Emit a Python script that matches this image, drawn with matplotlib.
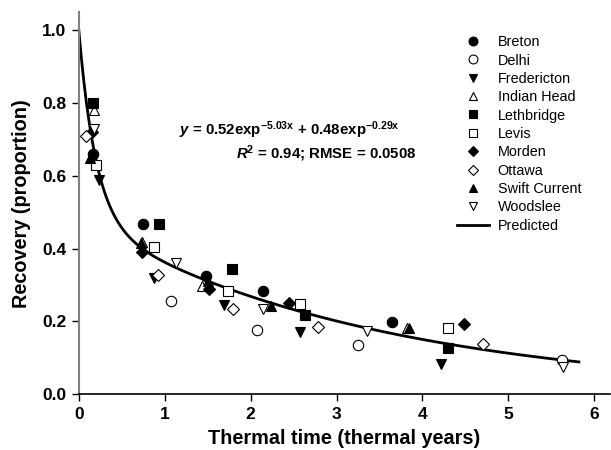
import numpy as np
import matplotlib
matplotlib.use("Agg")
import matplotlib.pyplot as plt

plt.rcParams["font.family"] = ["Liberation Sans", "DejaVu Sans"]
plt.rcParams["mathtext.fontset"] = "custom"
plt.rcParams["mathtext.rm"] = "Liberation Sans:bold"
plt.rcParams["mathtext.it"] = "Liberation Sans:italic:bold"
plt.rcParams["mathtext.bf"] = "Liberation Sans:bold"

# observed recovery by site (thermal years, proportion)
breton_x = [0.17, 0.75, 1.48, 2.14, 3.65]
breton_y = [0.66, 0.467, 0.325, 0.284, 0.198]
delhi_x = [1.07, 2.07, 3.25, 5.62]
delhi_y = [0.255, 0.177, 0.134, 0.093]
fredericton_x = [0.23, 0.875, 1.69, 2.58, 4.22]
fredericton_y = [0.59, 0.318, 0.246, 0.171, 0.083]
indianhead_x = [0.18, 0.74, 1.43, 3.82]
indianhead_y = [0.78, 0.418, 0.298, 0.183]
lethbridge_x = [0.17, 0.93, 1.78, 2.63, 4.30]
lethbridge_y = [0.80, 0.469, 0.344, 0.217, 0.127]
levis_x = [0.20, 0.87, 1.74, 2.57, 4.30]
levis_y = [0.63, 0.405, 0.283, 0.249, 0.183]
morden_x = [0.15, 0.73, 1.51, 2.45, 4.48]
morden_y = [0.72, 0.39, 0.289, 0.252, 0.194]
ottawa_x = [0.08, 0.92, 1.80, 2.78, 4.70]
ottawa_y = [0.71, 0.327, 0.235, 0.185, 0.137]
swift_x = [0.13, 0.72, 1.50, 2.24, 3.84]
swift_y = [0.65, 0.415, 0.31, 0.242, 0.182]
woodslee_x = [0.18, 1.13, 2.14, 3.35, 5.64]
woodslee_y = [0.73, 0.36, 0.235, 0.175, 0.074]

# fitted double exponential
a1, k1, a2, k2 = 0.52, 5.03, 0.48, 0.29
x_max = 5.82

sites = [
    ("Breton", breton_x, breton_y, "o", "black"),
    ("Delhi", delhi_x, delhi_y, "o", "white"),
    ("Fredericton", fredericton_x, fredericton_y, "v", "black"),
    ("Indian Head", indianhead_x, indianhead_y, "^", "white"),
    ("Lethbridge", lethbridge_x, lethbridge_y, "s", "black"),
    ("Levis", levis_x, levis_y, "s", "white"),
    ("Morden", morden_x, morden_y, "D", "black"),
    ("Ottawa", ottawa_x, ottawa_y, "D", "white"),
    ("Swift Current", swift_x, swift_y, "^", "black"),
    ("Woodslee", woodslee_x, woodslee_y, "v", "white"),
]
sizes = {"o": 7.5, "v": 7.5, "^": 7.5, "s": 7, "D": 6}

fig = plt.figure(figsize=(6.11, 4.5), dpi=100)
ax = fig.add_axes([0.129, 0.124, 0.869, 0.849])

for name, xs, ys, mk, fc in sites:
    ax.plot(xs, ys, linestyle="none", marker=mk, markersize=sizes[mk],
            markerfacecolor=fc, markeredgecolor="black", markeredgewidth=0.8,
            label=name, zorder=3)

xx = np.linspace(0, x_max, 400)
yy = a1 * np.exp(-k1 * xx) + a2 * np.exp(-k2 * xx)
ax.plot(xx, yy, color="black", lw=2, label="Predicted", zorder=2)

ax.set_xlim(0, 6.18)
ax.set_ylim(0, 1.05)
ax.set_xticks([0, 1, 2, 3, 4, 5, 6])
ax.set_yticks([0.0, 0.2, 0.4, 0.6, 0.8, 1.0])
ax.set_yticklabels(["0.0", "0.2", "0.4", "0.6", "0.8", "1.0"])
ax.spines["top"].set_visible(False)
ax.spines["right"].set_visible(False)
ax.spines["left"].set_color("#808080")
ax.spines["left"].set_linewidth(1.5)
ax.spines["bottom"].set_linewidth(1.2)
ax.tick_params(direction="out", length=5, width=1, labelsize=12.5, pad=4)
for lab in ax.get_xticklabels() + ax.get_yticklabels():
    lab.set_fontweight("bold")

ax.set_xlabel("Thermal time (thermal years)", fontsize=14.3, fontweight="bold",
              labelpad=5)
ax.set_ylabel("Recovery (proportion)", fontsize=14.3, fontweight="bold",
              labelpad=8)

fig.text(289 / 611, 1 - 130 / 450,
         r"$\it{y}$ = 0.52exp$^{-5.03\mathrm{x}}$ + 0.48exp$^{-0.29\mathrm{x}}$",
         ha="center", va="center", fontsize=10.8, fontweight="bold")
fig.text(326 / 611, 1 - 154 / 450,
         r"$\it{R}$$^{2}$ = 0.94; RMSE = 0.0508",
         ha="center", va="center", fontsize=10.8, fontweight="bold")

leg = ax.legend(loc="upper left", bbox_to_anchor=(450 / 611, 1 - 28 / 450),
                bbox_transform=fig.transFigure, frameon=False, fontsize=10.4,
                handlelength=2.2, handletextpad=0.6, labelspacing=0.3,
                borderpad=0, markerscale=0.85)

fig.savefig("out.png", dpi=100)
